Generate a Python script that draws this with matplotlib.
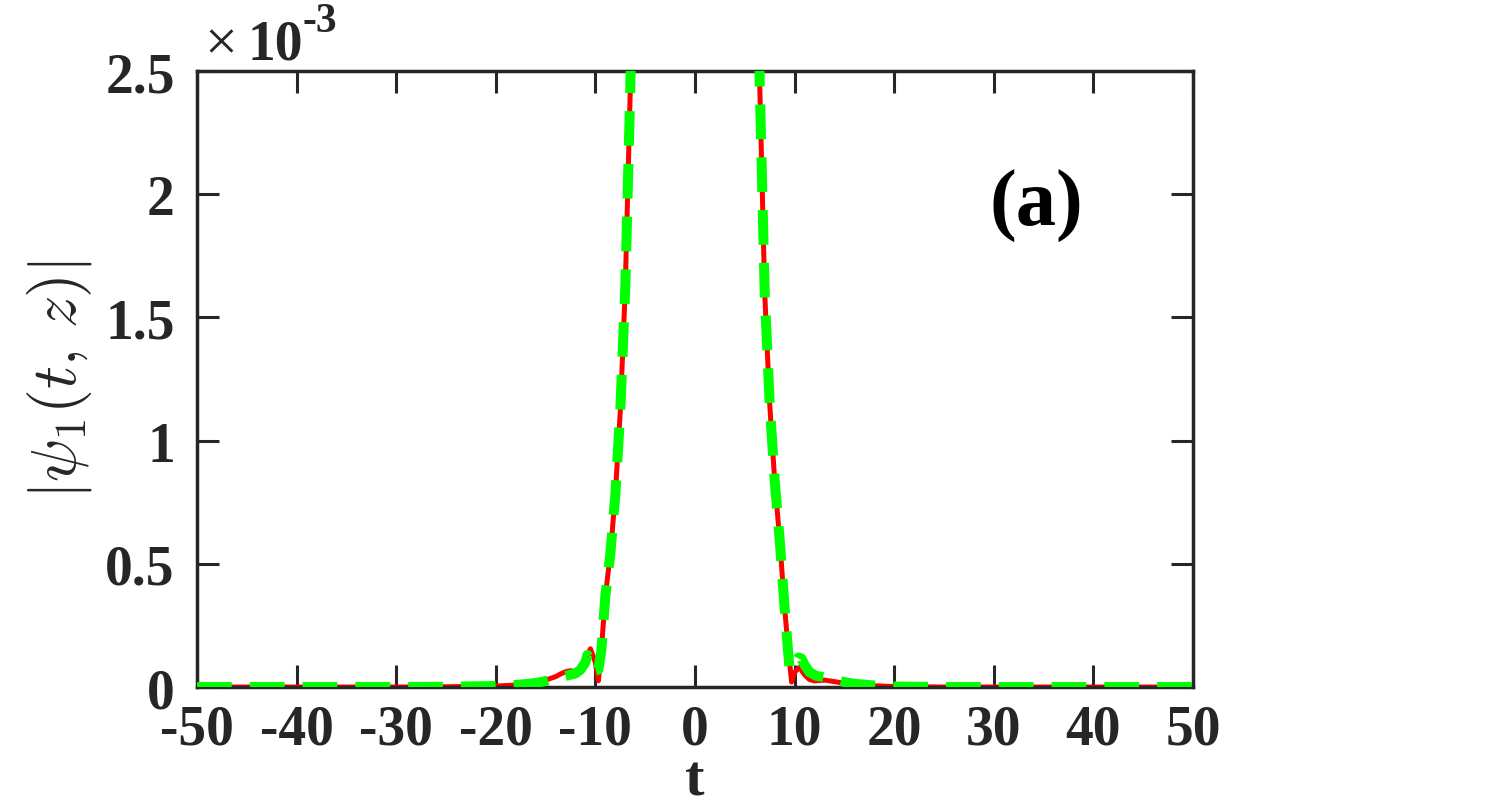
import numpy as np
import matplotlib
matplotlib.use("Agg")
import matplotlib.pyplot as plt
from matplotlib.ticker import FuncFormatter

plt.rcParams['font.family'] = ['Liberation Serif', 'DejaVu Serif']
plt.rcParams['font.weight'] = 'bold'
plt.rcParams['mathtext.fontset'] = 'cm'
plt.rcParams['axes.unicode_minus'] = False
plt.rcParams['lines.scale_dashes'] = False

# |psi_1(t,z)| (the peak is clipped by the axis top)
t_exact = [-50, -40, -30, -25, -20, -18, -16, -15, -14, -13.5, -13, -12.5, -12, -11.5,
           -11, -10.5, -10, -9.7, -9.4, -9, -8.5, -8, -7.5, -7, -6.5, -6,
           6, 6.5, 7, 7.5, 8, 8.5, 9, 9.4, 9.7, 10, 10.5, 11, 11.5, 12, 13, 14,
           15, 16, 18, 20, 25, 30, 40, 50]
psi_exact = [0, 0, 0, 0.001e-3, 0.004e-3, 0.008e-3, 0.018e-3, 0.028e-3, 0.042e-3, 0.053e-3,
             0.062e-3, 0.066e-3, 0.063e-3, 0.07e-3, 0.115e-3, 0.155e-3, 0.10e-3, 0.025e-3,
             0.15e-3, 0.37e-3, 0.54e-3, 0.78e-3, 1.12e-3, 1.62e-3, 2.42e-3, 3.5e-3,
             3.5e-3, 2.45e-3, 1.6e-3, 1.15e-3, 0.84e-3, 0.60e-3, 0.32e-3, 0.14e-3, 0.02e-3,
             0.06e-3, 0.08e-3, 0.05e-3, 0.03e-3, 0.025e-3, 0.028e-3, 0.022e-3,
             0.015e-3, 0.01e-3, 0.005e-3, 0.002e-3, 0, 0, 0, 0]

t_num = [-50, -40, -30, -25, -20, -18, -16, -15, -14, -13, -12.5, -12, -11.5, -11,
         -10.8, -10.5, -10.2, -9.7, -9.4, -9, -8.5, -8, -7.5, -7, -6.5, -6,
         6, 6.5, 7, 7.5, 8, 8.5, 9, 9.5, 10, 10.4, 10.7, 11, 11.5, 12.2, 13, 13.6,
         15, 16, 18, 20, 25, 30, 40, 50]
psi_num = [0, 0, 0, 0.001e-3, 0.004e-3, 0.008e-3, 0.016e-3, 0.024e-3, 0.035e-3, 0.045e-3,
           0.05e-3, 0.055e-3, 0.07e-3, 0.10e-3, 0.13e-3, 0.11e-3, 0.065e-3, 0.07e-3,
           0.15e-3, 0.37e-3, 0.54e-3, 0.78e-3, 1.12e-3, 1.62e-3, 2.42e-3, 3.5e-3,
           3.5e-3, 2.45e-3, 1.6e-3, 1.15e-3, 0.84e-3, 0.60e-3, 0.32e-3, 0.07e-3, 0.09e-3,
           0.12e-3, 0.115e-3, 0.09e-3, 0.06e-3, 0.045e-3, 0.04e-3, 0.035e-3,
           0.02e-3, 0.013e-3, 0.006e-3, 0.002e-3, 0, 0, 0, 0]

x_ticks = np.arange(-50, 51, 10)
y_ticks = [0, 0.5e-3, 1e-3, 1.5e-3, 2e-3, 2.5e-3]

fig = plt.figure(figsize=(15.11, 8.03), dpi=100)
ax = fig.add_axes([0.1304, 0.1432, 0.6591, 0.7671])

ax.plot(t_exact, psi_exact, color='#ff0000', lw=3.6, zorder=2)
ax.plot(t_num, psi_num, color='#00ff00', lw=7.2, dashes=(25, 13), zorder=3)

ax.set_xlim(-50, 50)
ax.set_ylim(0, 2.5e-3)
ax.set_xticks(x_ticks)
ax.set_yticks(y_ticks)
ax.yaxis.set_major_formatter(FuncFormatter(lambda v, p: '%g' % round(v * 1e3, 3)))

ax.tick_params(direction='in', length=16, width=2.2, colors='#262626', labelsize=40,
               top=True, right=True)
ax.tick_params(axis='x', pad=12)
ax.tick_params(axis='y', pad=16)
for s in ax.spines.values():
    s.set_linewidth(2.5)
    s.set_color('#262626')

ax.set_xlabel('t', fontsize=42, fontweight='bold', color='#262626', labelpad=-1)
ax.set_ylabel(r'$|\psi_1(t,\,z)|$', fontsize=46, color='#262626', labelpad=8)

ax.text(0.843, 0.782, '(a)', transform=ax.transAxes, fontsize=58, fontweight='bold',
        ha='center', va='center', color='black')

# multiplier above the y axis
fig.text(0.1350, 0.9253, '\u00d7', fontsize=42, fontweight='normal', color='#262626', va='baseline')
fig.text(0.1641, 0.9253, '10', fontsize=40, fontweight='bold', color='#262626', va='baseline')
fig.text(0.1999, 0.960, '-3', fontsize=30, fontweight='bold', color='#262626', va='baseline')

fig.savefig('out.png', dpi=100, facecolor='white')
